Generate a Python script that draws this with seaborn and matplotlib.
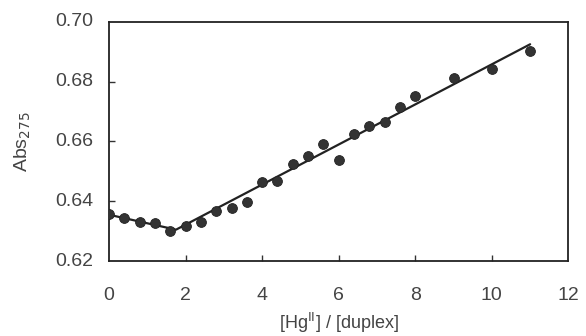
import numpy as np
import pandas as pd
import matplotlib
matplotlib.use('Agg')
import matplotlib.pyplot as plt
import seaborn as sns

# titration data
ratio = [0, 0.4, 0.8, 1.2, 1.6, 2.0, 2.4, 2.8, 3.2, 3.6, 4.0, 4.4, 4.8,
         5.2, 5.6, 6.0, 6.4, 6.8, 7.2, 7.6, 8.0, 9.0, 10.0, 11.0]
absorb = [0.6359, 0.6344, 0.6331, 0.6326, 0.6300, 0.6318, 0.6331, 0.6368,
          0.6378, 0.6396, 0.6464, 0.6467, 0.6526, 0.6553, 0.6592, 0.6539,
          0.6626, 0.6653, 0.6664, 0.6714, 0.6753, 0.6812, 0.6842, 0.6903]

# two-segment fit line
fit_x = [0, 1.75, 11.0]
fit_y = [0.6355, 0.6305, 0.6925]

xlabels = ['0', '2', '4', '6', '8', '10', '12']
ylabels = ['0.62', '0.64', '0.66', '0.68', '0.70']

pts = pd.DataFrame({'ratio': ratio, 'abs': absorb})
fit = pd.DataFrame({'ratio': fit_x, 'abs': fit_y})

sns.set_theme(style='ticks', rc={'axes.spines.top': True, 'axes.spines.right': True})
plt.rcParams['font.family'] = ['Liberation Sans', 'DejaVu Sans']
txt = '#444444'

fig, ax = plt.subplots(figsize=(5.86, 3.36), dpi=100)
fig.subplots_adjust(left=0.186, right=0.97, top=0.935, bottom=0.223)

sns.lineplot(x='ratio', y='abs', data=fit, color='#222222', lw=1.6, ax=ax)
sns.scatterplot(x='ratio', y='abs', data=pts, color='#333333', s=50,
                edgecolor='#222222', linewidth=0.6, ax=ax, zorder=3)

ax.set_xlim(0, 12)
ax.set_ylim(0.62, 0.70)
# tick marks only on interior values, labels on all
ax.set_xticks([2, 4, 6, 8, 10])
ax.set_yticks([0.64, 0.66, 0.68])
ax.tick_params(direction='in', length=4, width=1, color='#333333')
ax.set_xticklabels([])
ax.set_yticklabels([])
for v in xlabels:
    ax.annotate(v, (float(v), 0), xycoords=('data', 'axes fraction'),
                xytext=(0, -19), textcoords='offset points',
                ha='center', va='top', fontsize=14, color=txt)
for v in ylabels:
    ax.annotate(v, (0, float(v)), xycoords=('axes fraction', 'data'),
                xytext=(-11, 0), textcoords='offset points',
                ha='right', va='center', fontsize=14, color=txt)
ax.set_frame_on(True)
for side in ['top', 'right', 'bottom', 'left']:
    ax.spines[side].set_visible(True)
    ax.spines[side].set_color('#222222')
    ax.spines[side].set_linewidth(1.3)

ax.set_xlabel('[Hg$^{\\mathrm{II}}$] / [duplex]', fontsize=13, color=txt)
ax.set_ylabel('Abs$_{275}$', fontsize=14, color=txt)
ax.xaxis.set_label_coords(0.5, -0.21)
ax.yaxis.set_label_coords(-0.165, 0.5)

plt.savefig('out.png', dpi=100)
